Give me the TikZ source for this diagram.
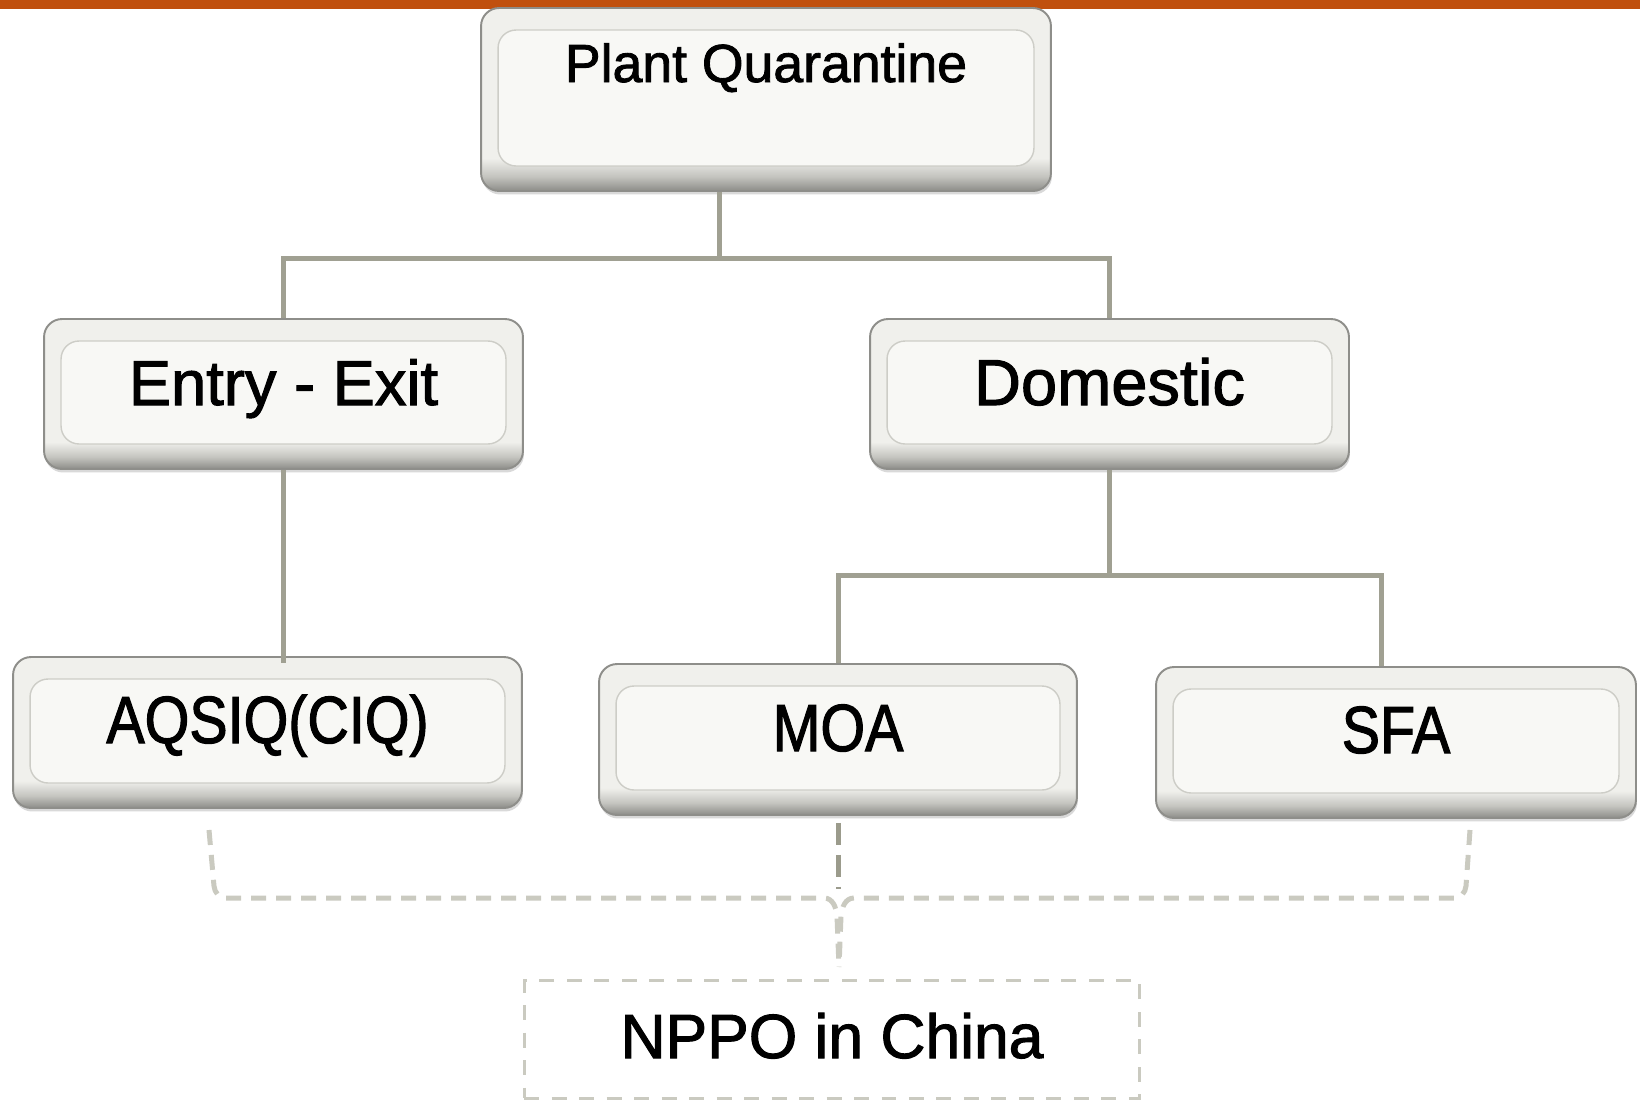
\documentclass[tikz,border=0pt]{standalone}
\usepackage{fontspec}
\setmainfont[FakeBold=1.6]{Liberation Sans}
\newfontfamily\narrowsf[FakeStretch=0.86, FakeBold=1.6]{Liberation Sans}
\usetikzlibrary{shadows}

\definecolor{barorange}{RGB}{192,80,14}
\definecolor{linegray}{RGB}{160,160,146}
\definecolor{dashgray}{RGB}{202,202,192}
\definecolor{darkdash}{RGB}{155,155,140}
\definecolor{boxfill}{RGB}{248,248,245}
\definecolor{rimtop}{RGB}{240,240,236}
\definecolor{rimmid}{RGB}{196,196,191}
\definecolor{rimbot}{RGB}{140,140,136}
\definecolor{rimedge}{RGB}{142,142,138}
\definecolor{innerln}{RGB}{205,205,199}
\pgfdeclareverticalshading{bevel}{100bp}{color(0bp)=(rimbot); color(25bp)=(rimbot);
  color(29bp)=(rimmid); color(34bp)=(rimtop); color(100bp)=(rimtop)}

\begin{document}
\begin{tikzpicture}[x=0.02cm, y=-0.02cm,
  qbox/.style={rounded corners=0.36cm, shading=bevel,
               draw=rimedge, line width=1.1pt, inner sep=0pt, align=center,
               drop shadow={shadow xshift=0.02cm, shadow yshift=-0.07cm,
                            opacity=0.25, fill=black!60},
               path picture={\fill[boxfill, draw=innerln, line width=0.8pt]
                 ([shift={(0.34cm,-0.44cm)}]path picture bounding box.north west)
                 rectangle ([shift={(-0.34cm,0.5cm)}]path picture bounding box.south east);}},
  nbox/.style={draw=dashgray, line width=0.06cm, dash pattern=on 0.3cm off 0.25cm,
               inner sep=0pt, align=center},
  conn/.style={draw=linegray, line width=0.1cm},
  dashln/.style={draw=dashgray, line width=0.1cm, dash pattern=on 0.3cm off 0.2cm},
  midln/.style={draw=darkdash, line width=0.1cm, dash pattern=on 0.44cm off 0.2cm},
  big/.style={font=\fontsize{37pt}{40pt}\selectfont},
  bign/.style={font=\narrowsf\fontsize{38pt}{40pt}\selectfont}
]
  \useasboundingbox (0,0) rectangle (1640,1099);
  \fill[barorange] (0,0) rectangle (1640,9);

  % organisation boxes
  \node[qbox, minimum width=11.4cm, text height=1.48cm, text depth=2.18cm,
        font=\fontsize{30.5pt}{32pt}\selectfont] (quar) at (766,99.5) {Plant Quarantine};
  \node[qbox, big, minimum width=9.58cm, text height=1.72cm, text depth=1.28cm,
        font=\fontsize{36pt}{40pt}\selectfont] (entry) at (283.5,394) {Entry - Exit};
  \node[qbox, big, minimum width=9.58cm, text height=1.72cm, text depth=1.28cm]
        (dom) at (1109.5,394) {Domestic};
  \node[qbox, bign, minimum width=10.18cm, text height=1.72cm, text depth=1.3cm]
        (aqsiq) at (267.5,732.5) {AQSIQ(CIQ)};
  \node[qbox, bign, minimum width=9.56cm, text height=1.74cm, text depth=1.28cm]
        (moa) at (838,739.5) {MOA};
  \node[qbox, bign, minimum width=9.6cm, text height=1.72cm, text depth=1.3cm]
        (sfa) at (1396,742.5) {SFA};
  \node[nbox, minimum width=12.32cm, text height=1.56cm, text depth=0.8cm,
        font=\fontsize{35.5pt}{40pt}\selectfont] (nppo) at (832,1039) {NPPO in China};

  % tree lines
  \coordinate (qsplit) at (719,258);
  \coordinate (dsplit) at (1109.5,575);
  \coordinate (tip) at (839,967);
  \draw[conn] (qsplit |- quar.south) -- (qsplit);
  \draw[conn] (entry.north) -- (entry.north |- qsplit) -- (dom.north |- qsplit) -- (dom.north);
  \draw[conn] (entry.south) -- ([yshift=-0.14cm]entry.south |- aqsiq.north);
  \draw[conn] (dom.south) -- (dsplit);
  \draw[conn] (moa.north) -- (moa.north |- dsplit)
    -- ([xshift=-0.3cm]sfa.north |- dsplit) -- ([xshift=-0.3cm]sfa.north);

  % brace to the NPPO
  \draw[midln] ([yshift=-0.14cm]moa.south) -- ++(0,66);
  \draw[dashln] (209,830) -- (214,886) to[out=-85,in=180] (226,898) -- (824,898)
    to[out=0,in=95] (837,916) -- (tip);
  \draw[dashln] (1470,830) -- (1466,886) to[out=-95,in=0] (1454,898) -- (854,898)
    to[out=180,in=85] (841,916) -- (tip);
\end{tikzpicture}
\end{document}
